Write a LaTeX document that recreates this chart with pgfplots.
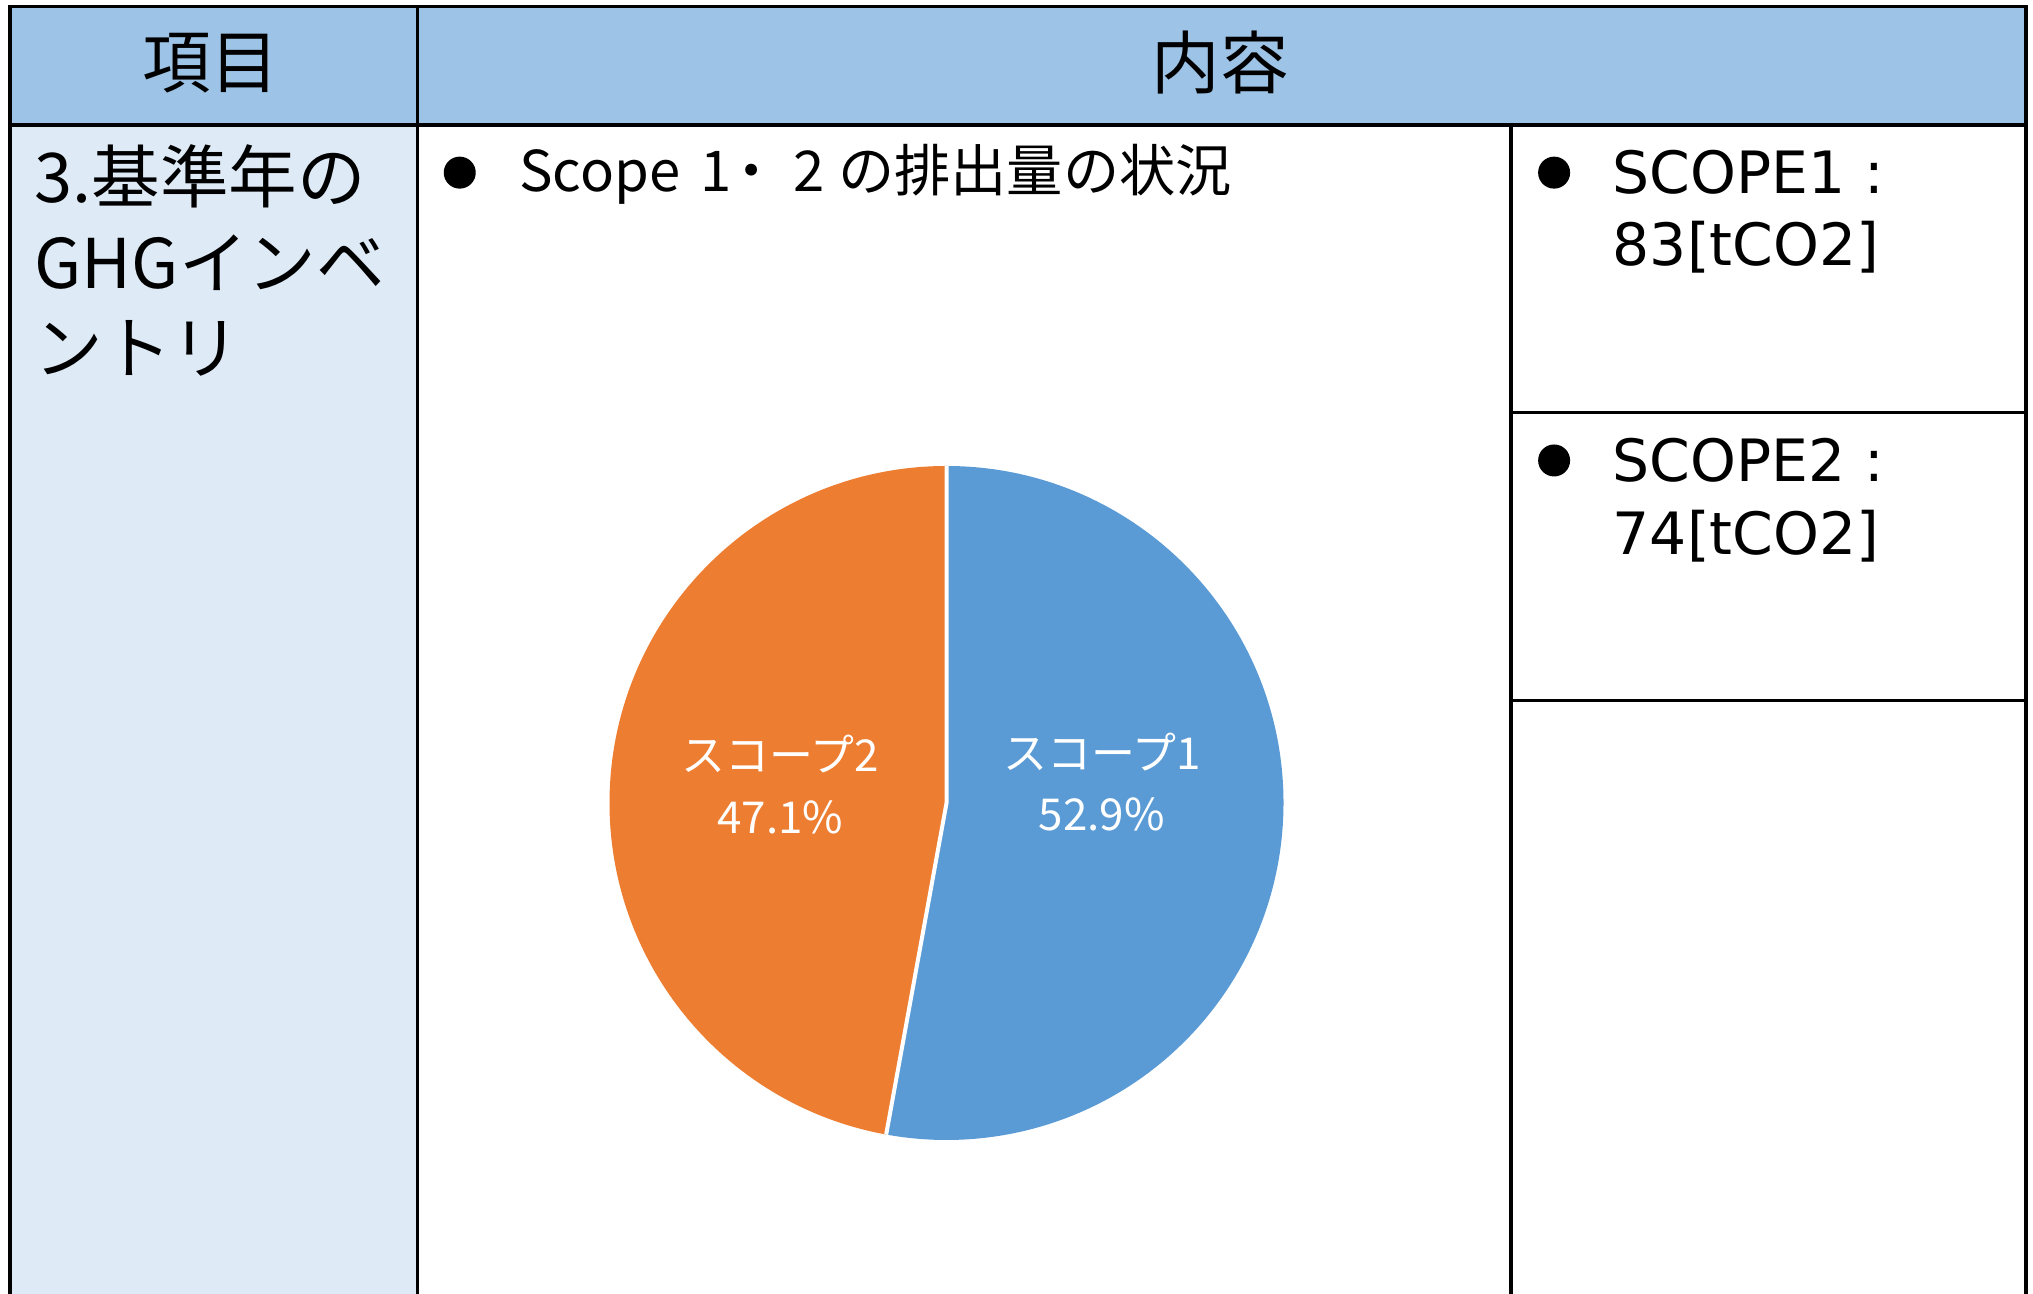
\documentclass[border=0pt]{standalone}
\usepackage{fontspec}
\setmainfont{Noto Sans CJK JP}
\newfontfamily\dv{DejaVu Sans}
\usepackage{pgfplots}
\usepackage{pgfplotstable}
\pgfplotsset{compat=1.18}
\definecolor{hdr}{HTML}{9DC3E6}
\definecolor{lcol}{HTML}{DEEBF7}
\definecolor{sblue}{HTML}{5B9BD5}
\definecolor{sorange}{HTML}{ED7D31}
\pgfplotstableread{
name value
S1 83
S2 74
}\scopedata
\begin{document}%
\begin{tikzpicture}
\pgfplotstablegetelem{0}{value}\of\scopedata \let\vA\pgfplotsretval
\pgfplotstablegetelem{1}{value}\of\scopedata \let\vB\pgfplotsretval
\pgfmathsetmacro{\fracA}{\vA/(\vA+\vB)}
\pgfmathsetmacro{\angA}{360*\fracA}
\pgfmathsetmacro{\angB}{360-\angA}
\pgfmathsetmacro{\pctA}{100*\fracA}
\pgfmathsetmacro{\pctB}{100-\pctA}
\pgfmathsetmacro{\endA}{90-\angA}
\path[use as bounding box] (0,0) rectangle (20.33cm,12.94cm);
\begin{scope}[x=0.01cm,y=0.01cm]
\fill[hdr] (10,1169.5) rectangle (2027,1288);
\fill[lcol] (10,0) rectangle (417.5,1169.5);
\end{scope}
\begin{axis}[at={(9.465cm,4.91cm)}, anchor=center, scale only axis,
  width=6.74cm, height=6.74cm, hide axis, clip=false,
  xmin=-1, xmax=1, ymin=-1, ymax=1]
\addplot[draw=none, forget plot] coordinates {(0,0)};
\fill[sblue] (axis cs:0,0) -- (axis cs:0,1) arc[start angle=90, delta angle=-\angA, radius=3.37cm] -- cycle;
\fill[sorange] (axis cs:0,0) -- (axis cs:0,1) arc[start angle=90, delta angle=\angB, radius=3.37cm] -- cycle;
\draw[white, line width=0.04cm] (axis cs:0,1) -- (axis cs:0,0) -- (axis cs:{cos(\endA)},{sin(\endA)});
\node[white, font={\fontsize{12.5pt}{15pt}\selectfont}] at (axis cs:0.461,0.151) {スコープ1};
\node[white, font={\fontsize{12.5pt}{15pt}\selectfont}] at (axis cs:0.461,-0.033) {\pgfmathprintnumber[fixed,precision=1,assume math mode=true]{\pctA}\%};
\node[white, font={\fontsize{12.5pt}{15pt}\selectfont}] at (axis cs:-0.493,0.144) {スコープ2};
\node[white, font={\fontsize{12.5pt}{15pt}\selectfont}] at (axis cs:-0.493,-0.042) {\pgfmathprintnumber[fixed,precision=1,assume math mode=true]{\pctB}\%};
\end{axis}
\begin{scope}[x=0.01cm,y=0.01cm]
\begin{scope}[line width=0.034cm]
\draw (10,0) -- (10,1288) -- (2027,1288) -- (2027,0);
\draw (10,1169.5) -- (2027,1169.5);
\draw (417.5,0) -- (417.5,1288);
\draw (1512,0) -- (1512,1169.5);
\draw (1512,882) -- (2027,882);
\draw (1512,594) -- (2027,594);
\end{scope}
\node[font={\fontsize{19.5pt}{23pt}\selectfont}] at (211,1232) {項目};
\node[font={\fontsize{19.5pt}{23pt}\selectfont}] at (1221,1232) {内容};
\begin{scope}[every node/.style={anchor=base west, inner sep=0pt, font={\fontsize{19.5pt}{24pt}\selectfont}}]
\node at (34,1092) {3.基準年の};
\node at (34,1006) {GHGインベ};
\node at (34,921) {ントリ};
\end{scope}
\fill (460,1122) circle[radius=0.16cm];
\begin{scope}[every node/.style={anchor=base west, inner sep=0pt, font={\fontsize{16pt}{20pt}\selectfont}}]
\node at (519,1103) {Scope};
\node at (700,1103) {1};
\node[anchor=base] at (752,1103) {・};
\node at (793,1103) {2};
\node at (838,1103) {の排出量の状況};
\end{scope}
\fill (1555,1122) circle[radius=0.16cm];
\fill (1555,834) circle[radius=0.16cm];
\begin{scope}[every node/.style={anchor=base west, inner sep=0pt, font={\dv\fontsize{16.6pt}{20pt}\selectfont}}]
\node at (1613,1101) {SCOPE1 :};
\node at (1613,1029) {83[tCO2]};
\node at (1613,813) {SCOPE2 :};
\node at (1613,740) {74[tCO2]};
\end{scope}
\end{scope}
\end{tikzpicture}%
\end{document}
